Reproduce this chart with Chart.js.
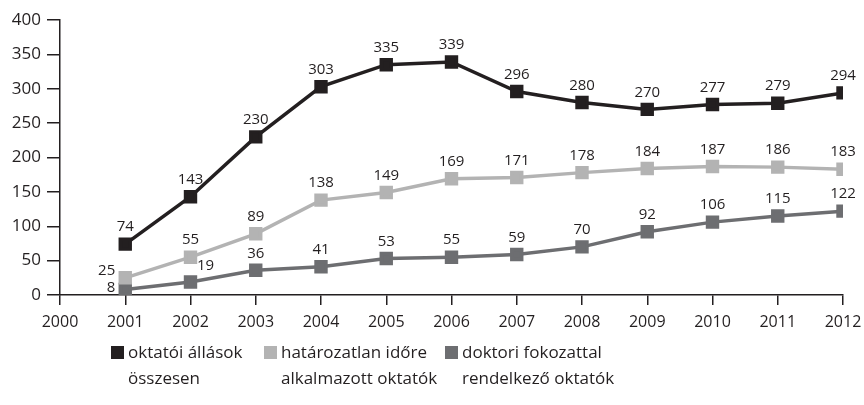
<!DOCTYPE html>
<html lang="hu">
<head>
<meta charset="UTF-8">
<script src="https://cdn.jsdelivr.net/npm/chart.js"></script>
<style>
  body { margin: 0; background: #fff; font-family: "Open Sans", sans-serif; }
  #wrap { position: relative; width: 864px; height: 405px; overflow: hidden; }
  .leg { position: absolute; top: 339px; font-size: 17px; line-height: 26px; color: #231f20; }
  .leg i { position: absolute; left: -17px; top: 7px; width: 13px; height: 13px; }
</style>
</head>
<body>
<div id="wrap">
  <canvas id="c" width="864" height="405"></canvas>
  <div class="leg" style="left:128px"><i style="background:#231f20"></i>oktatói állások<br>összesen</div>
  <div class="leg" style="left:281px"><i style="background:#b3b3b3"></i>határozatlan időre<br>alkalmazott oktatók</div>
  <div class="leg" style="left:462px"><i style="background:#6d6e71"></i>doktori fokozattal<br>rendelkező oktatók</div>
</div>
<script>
// Évek és adatsorok
const years = [2001, 2002, 2003, 2004, 2005, 2006, 2007, 2008, 2009, 2010, 2011, 2012];
const osszesen = [74, 143, 230, 303, 335, 339, 296, 280, 270, 277, 279, 294];
const hatarozatlan = [25, 55, 89, 138, 149, 169, 171, 178, 184, 187, 186, 183];
const doktori = [8, 19, 36, 41, 53, 55, 59, 70, 92, 106, 115, 122];
const seriesNames = ['oktatói állások összesen', 'határozatlan időre alkalmazott oktatók', 'doktori fokozattal rendelkező oktatók'];
const colors = ['#231f20', '#b3b3b3', '#6d6e71'];

const ink = '#231f20';
const fontFam = '"Open Sans", sans-serif';

// Értékcímkék a pontok fölé
const labelPlugin = {
  id: 'pointLabels',
  afterDatasetsDraw(chart) {
    const ctx = chart.ctx;
    ctx.save();
    ctx.font = '15px ' + fontFam;
    ctx.fillStyle = ink;
    ctx.textBaseline = 'middle';
    chart.data.datasets.forEach((ds, di) => {
      chart.getDatasetMeta(di).data.forEach((pt, i) => {
        const v = ds.data[i].y;
        let x = pt.x, y = pt.y - 17, align = 'center';
        if (i === 0 && di === 1) { x = pt.x - 10; y = pt.y - 7; align = 'right'; }
        if (i === 0 && di === 2) { x = pt.x - 10; y = pt.y - 2; align = 'right'; }
        if (i === 1 && di === 2) { x = pt.x + 15; y = pt.y - 16; }
        ctx.textAlign = align;
        ctx.fillText(String(v), x, y);
      });
    });
    ctx.restore();
  }
};

const mk = (vals, di) => ({
  label: seriesNames[di],
  data: vals.map((v, i) => ({ x: years[i], y: v })),
  borderColor: colors[di],
  backgroundColor: colors[di],
  borderWidth: 3.5,
  pointStyle: 'rect',
  pointRadius: 7,
  pointHoverRadius: 7,
  tension: 0
});

new Chart(document.getElementById('c'), {
  type: 'line',
  data: { datasets: [mk(osszesen, 0), mk(hatarozatlan, 1), mk(doktori, 2)] },
  options: {
    responsive: false,
    animation: false,
    events: [],
    layout: { padding: { top: 20, right: 21, left: 0, bottom: 0 } },
    plugins: { legend: { display: false }, tooltip: { enabled: false } },
    scales: {
      x: {
        type: 'linear', min: 2000, max: 2012,
        afterFit(s) { s.height = 110; s.paddingRight = 0; s.paddingLeft = 0; },
        border: { color: ink, width: 1.5 },
        grid: { drawOnChartArea: false, tickLength: 10, color: ink, lineWidth: 1.5 },
        ticks: { stepSize: 1, color: ink, font: { family: fontFam, size: 16 }, padding: 8, maxRotation: 0,
                 callback: v => String(v) }
      },
      y: {
        min: 0, max: 400,
        afterFit(s) { s.width = 60; },
        border: { color: ink, width: 1.5 },
        grid: { drawOnChartArea: false, tickLength: 13, color: ink, lineWidth: 1.5 },
        ticks: { stepSize: 50, color: ink, font: { family: fontFam, size: 17 }, padding: 6 }
      }
    }
  },
  plugins: [labelPlugin]
});
</script>
</body>
</html>
